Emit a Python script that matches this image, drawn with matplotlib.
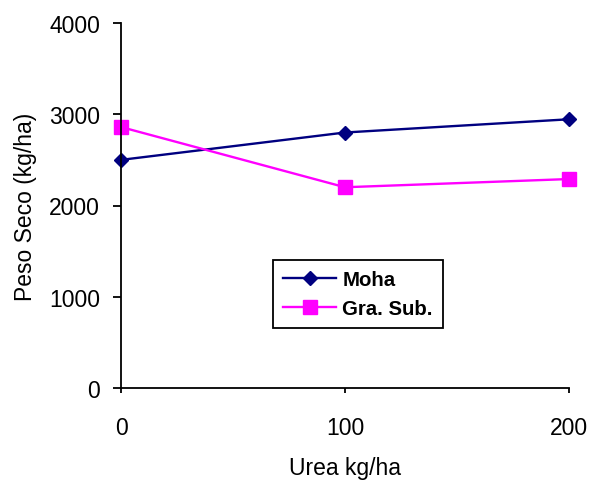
import matplotlib.pyplot as plt

urea = [0, 100, 200]
moha = [2500, 2800, 2945]
gra_sub = [2860, 2200, 2290]
yticks = [0, 1000, 2000, 3000, 4000]

plt.rcParams['font.family'] = ['Liberation Sans', 'DejaVu Sans']

fig = plt.figure(figsize=(5.89, 4.85), dpi=100)
ax = fig.add_axes([121/589, 1 - 389/485, 448/589, 365/485])

ax.plot(urea, moha, color='#000080', marker='D', markersize=7, linewidth=1.7,
        label='Moha', clip_on=False)
ax.plot(urea, gra_sub, color='#FF00FF', marker='s', markersize=10, linewidth=1.7,
        label='Gra. Sub.', clip_on=False)

ax.set_xlim(0, 200)
ax.set_ylim(0, 4000)
ax.set_xticks(urea)
ax.set_yticks(yticks)
ax.spines['top'].set_visible(False)
ax.spines['right'].set_visible(False)
ax.spines['left'].set_linewidth(1.3)
ax.spines['bottom'].set_linewidth(1.3)
ax.tick_params(axis='y', direction='out', length=6, width=1.3, pad=9, labelsize=16.5)
ax.tick_params(axis='x', direction='out', length=3.5, width=1.3, pad=17, labelsize=16.5)

ax.set_xlabel('Urea kg/ha', fontsize=16.5, labelpad=12)
ax.set_ylabel('Peso Seco (kg/ha)', fontsize=16.5, labelpad=9)

leg = ax.legend(loc='lower left', bbox_to_anchor=(0.339, 0.164), fancybox=False,
                edgecolor='black', framealpha=1, prop={'weight': 'bold', 'size': 14.7},
                handlelength=2.6, borderaxespad=0, labelspacing=0.5, handletextpad=0.3,
                borderpad=0.5)
leg.get_frame().set_linewidth(1.3)

fig.savefig('out.png', dpi=100)
